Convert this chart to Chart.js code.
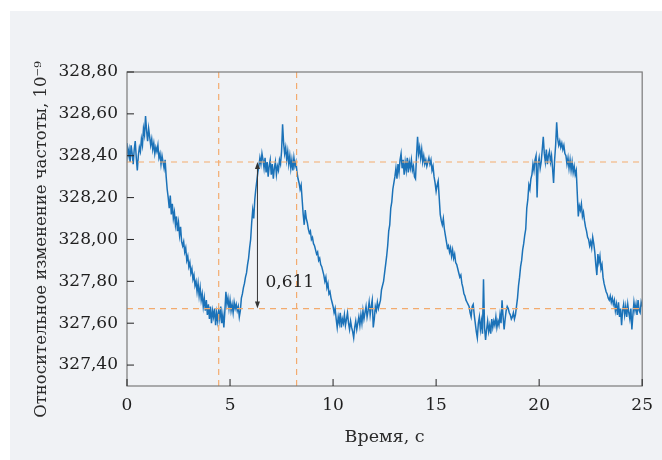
<!DOCTYPE html>
<html>
<head>
<meta charset="utf-8">
<script src="https://cdn.jsdelivr.net/npm/chart.js@4.4.0/dist/chart.umd.min.js"></script>
<style>
html, body { margin: 0; padding: 0; background: #fff; }
#panel { position: absolute; left: 10px; top: 11px; width: 652px; height: 449px; background: #f0f2f5; }
#wrap { position: absolute; left: 0; top: 0; width: 662px; height: 460px; }
</style>
</head>
<body>
<div id="panel"></div>
<div id="wrap"><canvas id="myChart"></canvas></div>
<script>
// measured signal, one sample every 0.05 s from 0 to 25 s
let timeStep = 0.05;
let freq = [
  328.46, 328.40, 328.43, 328.37, 328.45, 328.41, 328.36, 328.43, 328.47, 328.39, 328.33, 328.40, 328.44, 328.42, 328.48, 328.45, 328.53, 328.50, 328.59, 328.52,
  328.47, 328.53, 328.49, 328.45, 328.48, 328.43, 328.46, 328.41, 328.44, 328.42, 328.45, 328.39, 328.41, 328.36, 328.40, 328.37, 328.34, 328.38, 328.30, 328.24,
  328.20, 328.15, 328.21, 328.12, 328.17, 328.10, 328.13, 328.07, 328.11, 328.04, 328.08, 328.02, 328.06, 327.99, 327.97, 327.99, 327.94, 327.96, 327.90, 327.92,
  327.87, 327.89, 327.84, 327.86, 327.81, 327.83, 327.78, 327.80, 327.75, 327.79, 327.73, 327.77, 327.71, 327.74, 327.68, 327.72, 327.66, 327.71, 327.64, 327.69,
  327.62, 327.68, 327.60, 327.66, 327.63, 327.67, 327.59, 327.65, 327.61, 327.66, 327.62, 327.68, 327.60, 327.64, 327.58, 327.66, 327.75, 327.69, 327.72, 327.67,
  327.71, 327.66, 327.69, 327.65, 327.70, 327.67, 327.69, 327.66, 327.68, 327.63, 327.66, 327.72, 327.74, 327.77, 327.79, 327.82, 327.84, 327.88, 327.91, 327.96,
  328.00, 328.08, 328.14, 328.10, 328.19, 328.24, 328.28, 328.32, 328.35, 328.39, 328.36, 328.41, 328.38, 328.34, 328.39, 328.32, 328.37, 328.30, 328.35, 328.38,
  328.31, 328.36, 328.29, 328.34, 328.37, 328.31, 328.35, 328.33, 328.38, 328.36, 328.42, 328.55, 328.46, 328.41, 328.44, 328.38, 328.42, 328.36, 328.40, 328.34,
  328.38, 328.33, 328.39, 328.35, 328.37, 328.32, 328.29, 328.27, 328.24, 328.26, 328.19, 328.12, 328.07, 328.14, 328.10, 328.08, 328.05, 328.03, 328.04, 328.00,
  328.01, 327.98, 327.97, 327.95, 327.93, 327.94, 327.90, 327.91, 327.88, 327.87, 327.85, 327.83, 327.80, 327.82, 327.77, 327.79, 327.74, 327.75, 327.72, 327.70,
  327.68, 327.65, 327.67, 327.62, 327.58, 327.63, 327.60, 327.65, 327.58, 327.62, 327.60, 327.64, 327.59, 327.62, 327.65, 327.60, 327.57, 327.61, 327.58, 327.56,
  327.53, 327.58, 327.61, 327.57, 327.60, 327.63, 327.59, 327.64, 327.60, 327.66, 327.62, 327.65, 327.68, 327.63, 327.66, 327.70, 327.64, 327.68, 327.71, 327.58,
  327.62, 327.68, 327.66, 327.70, 327.67, 327.69, 327.71, 327.76, 327.78, 327.80, 327.84, 327.88, 327.92, 327.97, 328.04, 328.07, 328.15, 328.18, 328.24, 328.27,
  328.30, 328.34, 328.29, 328.36, 328.32, 328.38, 328.41, 328.34, 328.38, 328.31, 328.37, 328.33, 328.39, 328.32, 328.37, 328.34, 328.38, 328.33, 328.35, 328.30,
  328.29, 328.40, 328.49, 328.41, 328.44, 328.39, 328.43, 328.37, 328.40, 328.36, 328.38, 328.35, 328.37, 328.39, 328.36, 328.38, 328.33, 328.35, 328.30, 328.27,
  328.23, 328.26, 328.28, 328.20, 328.12, 328.09, 328.07, 328.10, 328.05, 328.02, 327.99, 327.96, 327.97, 327.94, 327.96, 327.92, 327.95, 327.91, 327.93, 327.89,
  327.88, 327.86, 327.84, 327.82, 327.83, 327.79, 327.77, 327.74, 327.73, 327.71, 327.70, 327.69, 327.68, 327.65, 327.63, 327.68, 327.69, 327.64, 327.60, 327.56,
  327.53, 327.60, 327.63, 327.57, 327.61, 327.55, 327.81, 327.58, 327.52, 327.57, 327.61, 327.56, 327.59, 327.55, 327.62, 327.58, 327.61, 327.59, 327.63, 327.58,
  327.61, 327.59, 327.64, 327.60, 327.71, 327.63, 327.57, 327.62, 327.66, 327.68, 327.67, 327.65, 327.64, 327.62, 327.63, 327.65, 327.62, 327.64, 327.68, 327.72,
  327.78, 327.82, 327.87, 327.90, 327.95, 327.98, 328.02, 328.05, 328.15, 328.19, 328.26, 328.24, 328.29, 328.31, 328.36, 328.33, 328.38, 328.40, 328.20, 328.36,
  328.39, 328.34, 328.37, 328.43, 328.49, 328.41, 328.37, 328.43, 328.36, 328.40, 328.42, 328.37, 328.40, 328.34, 328.27, 328.38, 328.45, 328.56, 328.48, 328.45,
  328.47, 328.44, 328.46, 328.43, 328.45, 328.41, 328.40, 328.36, 328.39, 328.34, 328.38, 328.33, 328.37, 328.32, 328.35, 328.31, 328.33, 328.22, 328.11, 328.16,
  328.14, 328.17, 328.11, 328.13, 328.09, 328.06, 328.04, 328.01, 328.00, 327.97, 327.99, 327.96, 328.01, 327.98, 327.94, 327.88, 327.83, 327.93, 327.89, 327.92,
  327.86, 327.88, 327.82, 327.79, 327.77, 327.75, 327.74, 327.72, 327.71, 327.73, 327.70, 327.72, 327.69, 327.71, 327.66, 327.69, 327.64, 327.70, 327.63, 327.67,
  327.59, 327.66, 327.69, 327.64, 327.68, 327.63, 327.69, 327.65, 327.62, 327.67, 327.57, 327.64, 327.70, 327.66, 327.69, 327.64, 327.71, 327.66, 327.65, 327.70,
  327.68
];
let yTicks = [327.40, 327.60, 327.80, 328.00, 328.20, 328.40, 328.60, 328.80];
let xTicks = [0, 5, 10, 15, 20, 25];

// reference marks
let upperLevel = 328.37;
let lowerLevel = 327.67;
let markTimes = [4.45, 8.23];
let arrowTime = 6.33;
let amplitudeText = '0,611';

let points = [];
for (var i = 0; i < freq.length; i++) {
  points[i] = {x: i * timeStep, y: freq[i]};
}

let dashColor = '#f3ab6e';
let refSets = [
  {data: [{x: 0, y: upperLevel}, {x: 25, y: upperLevel}]},
  {data: [{x: 0, y: lowerLevel}, {x: 25, y: lowerLevel}]},
  {data: [{x: markTimes[0], y: 327.30}, {x: markTimes[0], y: 328.80}]},
  {data: [{x: markTimes[1], y: 327.30}, {x: markTimes[1], y: 328.80}]}
].map(function (d) {
  d.borderColor = dashColor;
  d.borderWidth = 1.2;
  d.borderDash = [6, 5];
  d.pointRadius = 0;
  return d;
});

let serif = '"DejaVu Serif", serif';

let decor = {
  id: 'decor',
  afterDraw: function (chart) {
    let ctx = chart.ctx;
    let a = chart.chartArea;
    let xs = chart.scales.x, ys = chart.scales.y;
    ctx.save();
    // frame
    ctx.strokeStyle = '#7a7a7a';
    ctx.lineWidth = 1.2;
    ctx.strokeRect(a.left, a.top, a.right - a.left, a.bottom - a.top);
    // inner ticks
    ctx.beginPath();
    xTicks.forEach(function (t) {
      let px = xs.getPixelForValue(t);
      ctx.moveTo(px, a.bottom);
      ctx.lineTo(px, a.bottom - 7);
    });
    yTicks.forEach(function (t) {
      let py = ys.getPixelForValue(t);
      ctx.moveTo(a.left, py);
      ctx.lineTo(a.left + 7, py);
    });
    ctx.strokeStyle = '#222';
    ctx.lineWidth = 1;
    ctx.stroke();
    // amplitude arrow
    let ax = xs.getPixelForValue(arrowTime);
    let y1 = ys.getPixelForValue(upperLevel);
    let y2 = ys.getPixelForValue(lowerLevel);
    ctx.strokeStyle = '#333';
    ctx.fillStyle = '#333';
    ctx.lineWidth = 1;
    ctx.beginPath();
    ctx.moveTo(ax, y1 + 4);
    ctx.lineTo(ax, y2 - 4);
    ctx.stroke();
    ctx.beginPath();
    ctx.moveTo(ax, y1); ctx.lineTo(ax - 2.5, y1 + 7); ctx.lineTo(ax + 2.5, y1 + 7); ctx.closePath();
    ctx.moveTo(ax, y2); ctx.lineTo(ax - 2.5, y2 - 7); ctx.lineTo(ax + 2.5, y2 - 7); ctx.closePath();
    ctx.fill();
    ctx.font = '17px ' + serif;
    ctx.fillStyle = '#222';
    ctx.textAlign = 'left';
    ctx.textBaseline = 'middle';
    ctx.fillText(amplitudeText, ax + 8, ys.getPixelForValue(327.80) + 1);
    ctx.restore();
  }
};

let chart = new Chart(document.getElementById('myChart').getContext('2d'), {
  type: 'line',
  data: {
    datasets: refSets.concat([{
      data: points,
      borderColor: '#1b72b8',
      borderWidth: 1.5,
      pointRadius: 0,
      tension: 0
    }])
  },
  options: {
    responsive: true,
    maintainAspectRatio: false,
    animation: false,
    layout: {padding: {left: 0, top: 72, right: 18, bottom: 0}},
    plugins: {legend: {display: false}, tooltip: {enabled: false}},
    scales: {
      x: {
        type: 'linear',
        min: 0,
        max: 25,
        afterBuildTicks: function (s) { s.ticks = xTicks.map(function (v) { return {value: v}; }); },
        afterFit: function (s) { s.height = 74; },
        grid: {display: false, drawTicks: false},
        border: {display: false},
        ticks: {padding: 9, color: '#1e1e1e', font: {family: serif, size: 17}, maxRotation: 0},
        title: {display: true, text: 'Время, с', color: '#2a2a2a', font: {family: serif, size: 17.5}, padding: {top: 0, bottom: 12.5}}
      },
      y: {
        min: 327.30,
        max: 328.80,
        afterBuildTicks: function (s) { s.ticks = yTicks.map(function (v) { return {value: v}; }); },
        afterFit: function (s) { s.width = 127; },
        grid: {display: false, drawTicks: false},
        border: {display: false},
        ticks: {
          padding: 9, color: '#1e1e1e', font: {family: serif, size: 17},
          callback: function (v) { return v.toFixed(2).replace('.', ','); }
        },
        // trailing spaces nudge the rotated title down to where the original sits
        title: {display: true, text: 'Относительное изменение частоты, 10⁻⁹    ', color: '#2a2a2a', font: {family: serif, size: 16.5}, padding: {top: 32, bottom: 0}}
      }
    }
  },
  plugins: [decor]
});
</script>
</body>
</html>
